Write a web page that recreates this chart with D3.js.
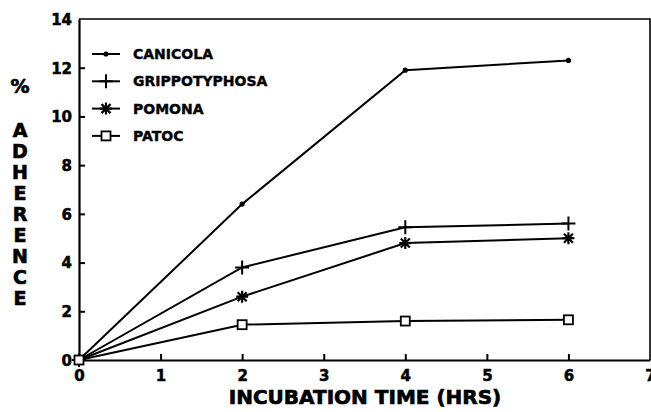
<!DOCTYPE html>
<html>
<head>
<meta charset="utf-8">
<script src="https://cdn.jsdelivr.net/npm/d3@7"></script>
<style>
  body { margin: 0; background: #fff; }
  svg { display: block; }
  text { font-family: "DejaVu Sans", "Liberation Sans", Arial, sans-serif; font-weight: bold; fill: #000; }
</style>
</head>
<body>
<div id="chart"></div>
<script>
// data
var hours = [0, 2, 4, 6];
var canicola = [0, 6.4, 11.9, 12.3];
var grippotyphosa = [0, 3.8, 5.45, 5.6];
var pomona = [0, 2.6, 4.8, 5.0];
var patoc = [0, 1.45, 1.6, 1.65];
var seriesNames = ["CANICOLA", "GRIPPOTYPHOSA", "POMONA", "PATOC"];
var xTicks = [0, 1, 2, 3, 4, 5, 6, 7];
var yTicks = [0, 2, 4, 6, 8, 10, 12, 14];
var yLetters = ["A", "D", "H", "E", "R", "E", "N", "C", "E"];

var width = 651, height = 412;
var plotLeft = 79, plotRight = 650, plotTop = 19, plotBottom = 360;
var fontName = "'DejaVu Sans', 'Liberation Sans', Arial, sans-serif";

var svg = d3.select("#chart").append("svg")
    .attr("width", width)
    .attr("height", height);

var x = d3.scaleLinear().domain([0, 7]).range([plotLeft, plotRight]);
var y = d3.scaleLinear().domain([0, 14]).range([plotBottom, plotTop]);

// frame (top + right)
svg.append("path")
    .attr("d", "M" + plotLeft + "," + y(14) + "H" + x(7) + "V" + plotBottom)
    .attr("fill", "none")
    .attr("stroke", "#000")
    .attr("stroke-width", 1.6);

// axes
var xAxis = d3.axisBottom(x).tickValues(xTicks).tickFormat(d3.format("d"))
    .tickSizeInner(-6).tickSizeOuter(0).tickPadding(10);
var yAxis = d3.axisLeft(y).tickValues(yTicks).tickFormat(d3.format("d"))
    .tickSizeInner(-6).tickSizeOuter(0).tickPadding(7);

var gx = svg.append("g").attr("transform", "translate(0," + plotBottom + ")").call(xAxis);
var gy = svg.append("g").attr("transform", "translate(" + plotLeft + ",0)").call(yAxis);

[gx, gy].forEach(function(g) {
  g.select(".domain").attr("stroke-width", 2.2);
  g.selectAll(".tick line").attr("stroke-width", 2);
  g.selectAll(".tick text")
      .style("font-family", fontName)
      .style("font-weight", "bold")
      .style("font-size", "15px")
      .attr("stroke", "#000")
      .attr("stroke-width", 0.5);
});
gx.selectAll(".tick").filter(function(d) { return d === 0 || d === 7; }).select("line").remove();
gy.selectAll(".tick").filter(function(d) { return d === 0 || d === 14; }).select("line").remove();
gy.selectAll(".tick text").attr("dy", "0.36em");

// axis titles
svg.append("text")
    .attr("x", 365)
    .attr("y", 404)
    .attr("text-anchor", "middle")
    .style("font-size", "20px")
    .attr("stroke", "#000")
    .attr("stroke-width", 0.7)
    .text("INCUBATION TIME (HRS)");

svg.append("text")
    .attr("x", 20)
    .attr("y", 93)
    .attr("text-anchor", "middle")
    .style("font-size", "19px")
    .attr("stroke", "#000")
    .attr("stroke-width", 0.7)
    .text("%");

svg.selectAll(".ylet")
    .data(yLetters)
    .enter().append("text")
    .attr("class", "ylet")
    .attr("x", 20)
    .attr("y", function(d, i) { return 137 + i * 21; })
    .attr("text-anchor", "middle")
    .style("font-size", "19px")
    .attr("stroke", "#000")
    .attr("stroke-width", 0.7)
    .text(function(d) { return d; });

// markers
function drawMarker(g, type) {
  if (type === 0) {
    g.append("circle").attr("r", 2.6).attr("fill", "#000");
  } else if (type === 1) {
    g.append("path").attr("d", "M-7,0H7M0,-7V7")
        .attr("stroke", "#000").attr("stroke-width", 2);
  } else if (type === 2) {
    g.append("path").attr("d", "M-6,0H6M0,-6V6M-4.5,-4.5L4.5,4.5M-4.5,4.5L4.5,-4.5")
        .attr("stroke", "#000").attr("stroke-width", 2.2);
  } else {
    g.append("rect").attr("x", -4.5).attr("y", -4.5).attr("width", 9).attr("height", 9)
        .attr("fill", "#fff").attr("stroke", "#000").attr("stroke-width", 1.8);
  }
}

var allSeries = [canicola, grippotyphosa, pomona, patoc];
var line = d3.line()
    .x(function(d, i) { return x(hours[i]); })
    .y(function(d) { return y(d); });

allSeries.forEach(function(vals, s) {
  svg.append("path")
      .datum(vals)
      .attr("d", line)
      .attr("fill", "none")
      .attr("stroke", "#000")
      .attr("stroke-width", 2);
  vals.forEach(function(v, i) {
    var g = svg.append("g").attr("transform", "translate(" + x(hours[i]) + "," + y(v) + ")");
    drawMarker(g, s);
  });
});

// legend
var legend = svg.append("g").attr("transform", "translate(92,54)");
seriesNames.forEach(function(name, i) {
  var row = legend.append("g").attr("transform", "translate(0," + (i * 27.3) + ")");
  row.append("line").attr("x1", 0).attr("x2", 28).attr("y1", 0).attr("y2", 0)
      .attr("stroke", "#000").attr("stroke-width", 2);
  drawMarker(row.append("g").attr("transform", "translate(14,0)"), i);
  row.append("text")
      .attr("x", 41)
      .attr("y", 5)
      .style("font-size", "14px")
      .attr("stroke", "#000")
      .attr("stroke-width", 0.4)
      .text(name);
});
</script>
</body>
</html>
